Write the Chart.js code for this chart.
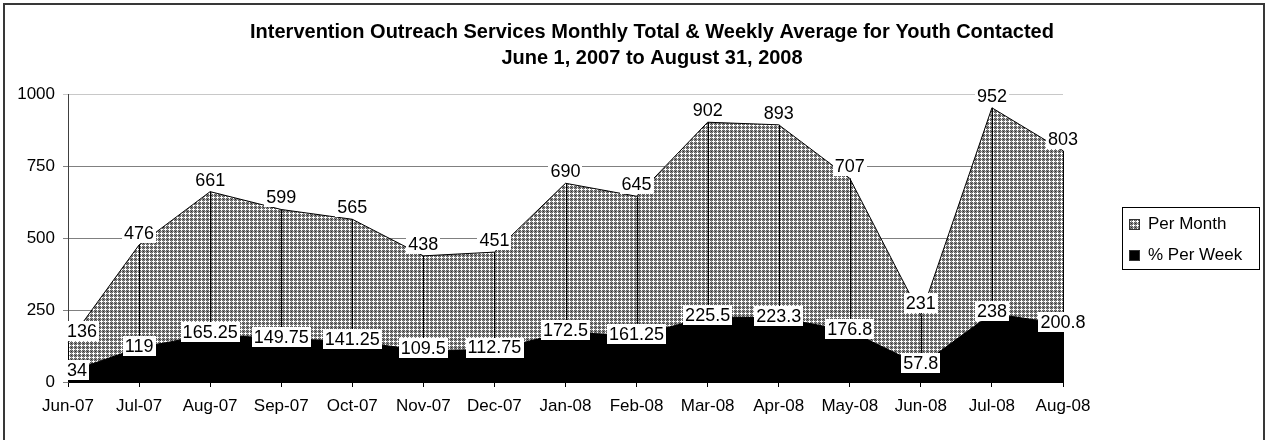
<!DOCTYPE html>
<html lang="en">
<head>
<meta charset="UTF-8">
<title>Intervention Outreach Services</title>
<script src="https://cdn.jsdelivr.net/npm/chart.js@4.4.1/dist/chart.umd.min.js"></script>
<style>
  html, body { margin: 0; padding: 0; background: #fff; }
  #wrap { width: 1266px; height: 440px; }
</style>
</head>
<body>
<div id="wrap"><canvas id="myChart"></canvas></div>
<script>
const months = ['Jun-07', 'Jul-07', 'Aug-07', 'Sep-07', 'Oct-07', 'Nov-07', 'Dec-07', 'Jan-08',
                'Feb-08', 'Mar-08', 'Apr-08', 'May-08', 'Jun-08', 'Jul-08', 'Aug-08'];
const perMonth = [136, 476, 661, 599, 565, 438, 451, 690, 645, 902, 893, 707, 231, 952, 803];
const perWeek = [34, 119, 165.25, 149.75, 141.25, 109.5, 112.75, 172.5, 161.25, 225.5, 223.3, 176.8, 57.8, 238, 200.8];
const yTicks = [0, 250, 500, 750, 1000];
const titleLines = ['Intervention Outreach Services Monthly Total & Weekly Average for Youth Contacted',
                    'June 1, 2007 to August 31, 2008'];

const FONT = 'Arial, "Liberation Sans", sans-serif';
Chart.defaults.font.family = FONT;
Chart.defaults.color = '#000';

const canvas = document.getElementById('myChart');
const ctx = canvas.getContext('2d');

// excel-ish grey crosshatch fill
function hatch() {
    const tile = document.createElement('canvas');
    tile.width = 4; tile.height = 4;
    const t = tile.getContext('2d');
    const rows = ['dwdg', 'wwwg', 'dwdg', 'gggk'];
    const col = { w: '#ffffff', d: '#5c5c5c', g: '#8a8a8a', k: '#2a2a2a' };
    rows.forEach((r, y) => [...r].forEach((ch, x) => {
        t.fillStyle = col[ch];
        t.fillRect(x, y, 1, 1);
    }));
    return ctx.createPattern(tile, 'repeat');
}

// label lift above the point, per series (monthly, weekly)
const labelLift = [12, 2];

const extras = {
    id: 'extras',
    // drop lines from the monthly points, the weekly area covers their lower part
    beforeDatasetDraw(chart, args) {
        if (args.index !== 1) return;
        const c = chart.ctx;
        const bottom = chart.chartArea.bottom;
        c.save();
        c.strokeStyle = '#000';
        c.lineWidth = 1;
        c.beginPath();
        chart.getDatasetMeta(0).data.forEach(p => {
            const x = Math.round(p.x) + 0.5;
            c.moveTo(x, p.y);
            c.lineTo(x, bottom);
        });
        c.stroke();
        c.restore();
    },
    afterDatasetsDraw(chart) {
        const c = chart.ctx, area = chart.chartArea;
        c.save();
        c.font = '18px ' + FONT;
        c.textAlign = 'center';
        c.textBaseline = 'middle';
        chart.data.datasets.forEach((ds, i) => {
            chart.getDatasetMeta(i).data.forEach((p, j) => {
                const txt = String(ds.data[j]);
                const w = c.measureText(txt).width + 4;
                let x = p.x;
                if (x - w / 2 < area.left - 3) x = area.left - 3 + w / 2;
                const y = p.y - labelLift[i];
                c.fillStyle = '#fff';
                c.fillRect(Math.round(x - w / 2), Math.round(y - 10), Math.round(w), 20);
                c.fillStyle = '#000';
                c.fillText(txt, x, y + 1);
            });
        });
        c.restore();
    },
    afterDraw(chart) {
        const c = chart.ctx, area = chart.chartArea;
        c.save();
        // title
        c.font = 'bold 20px ' + FONT;
        c.textAlign = 'center';
        c.textBaseline = 'middle';
        c.fillStyle = '#000';
        titleLines.forEach((t, i) => c.fillText(t, 652, 32 + i * 26));
        // legend
        const lx = area.right + 59, mid = (area.top + area.bottom) / 2;
        const top = Math.round(mid - 31) + 0.5;
        c.strokeStyle = '#000';
        c.lineWidth = 1;
        c.strokeRect(lx + 0.5, top, 137, 62);
        c.font = '17px ' + FONT;
        c.textAlign = 'left';
        chart.data.datasets.forEach((ds, i) => {
            const cy = top + 16 + i * 31;
            c.fillStyle = ds.backgroundColor;
            c.fillRect(lx + 7, Math.round(cy - 5), 11, 11);
            c.strokeStyle = '#333';
            c.strokeRect(lx + 7.5, Math.round(cy - 5) + 0.5, 10, 10);
            c.fillStyle = '#000';
            c.fillText(ds.label, lx + 26, cy + 1);
        });
        // outer frame
        c.strokeStyle = '#383838';
        c.lineWidth = 2;
        c.strokeRect(4, 4, 1260, 460);
        c.restore();
    }
};

const config = {
    type: 'line',
    data: {
        labels: months,
        datasets: [{
            label: 'Per Month',
            data: perMonth,
            backgroundColor: hatch(),
            borderColor: '#000',
            borderWidth: 1,
            fill: 'origin',
            pointRadius: 0,
            tension: 0,
            order: 2
        }, {
            label: '% Per Week',
            data: perWeek,
            backgroundColor: '#000',
            borderColor: '#000',
            borderWidth: 1,
            fill: 'origin',
            pointRadius: 0,
            tension: 0,
            order: 1
        }]
    },
    options: {
        responsive: false,
        animation: false,
        layout: { padding: { left: 10, right: 2, top: 94, bottom: 0 } },
        plugins: {
            legend: { display: false },
            tooltip: { enabled: false },
            title: { display: false }
        },
        scales: {
            x: {
                offset: false,
                grid: { drawOnChartArea: false, color: '#000', tickLength: 5 },
                border: { color: '#000' },
                ticks: { autoSkip: false, maxRotation: 0, padding: 9, font: { size: 17 } },
                afterFit: s => { s.height = 58; }
            },
            y: {
                min: 0,
                max: 1000,
                afterBuildTicks: axis => { axis.ticks = yTicks.map(v => ({ value: v })); },
                grid: {
                    color: c => c.tick && c.tick.value === 1000 ? '#c8c8c8' : '#808080',
                    tickLength: 5
                },
                border: { color: '#404040' },
                ticks: { padding: 8, font: { size: 17 }, callback: v => String(v) },
                afterFit: s => { s.width = 58; }
            },
            // empty right-hand axis that keeps room for the legend
            side: {
                type: 'linear',
                position: 'right',
                grid: { display: false },
                border: { display: false },
                ticks: { display: false },
                afterFit: s => { s.width = 201; }
            }
        }
    },
    plugins: [extras]
};

canvas.width = 1266;
canvas.height = 440;
const myChart = new Chart(canvas, config);
</script>
</body>
</html>
